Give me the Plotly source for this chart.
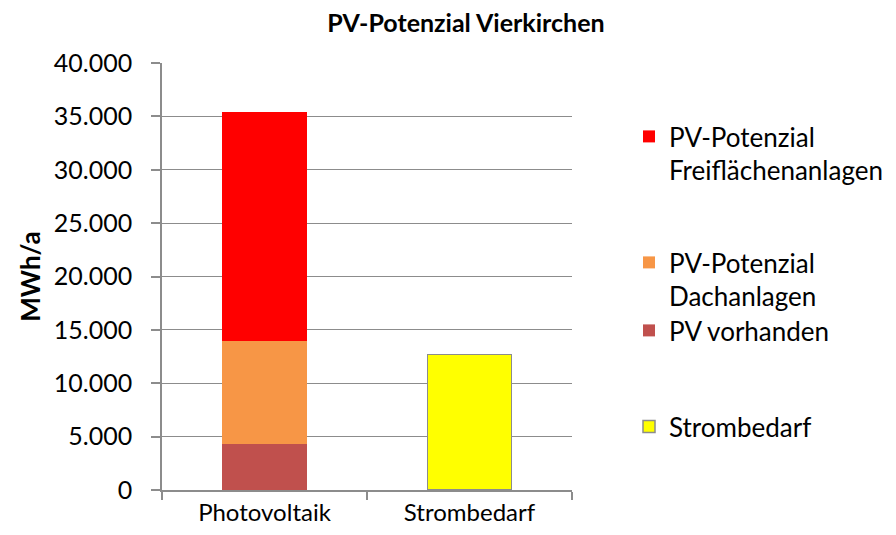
import plotly.graph_objects as go

categories = ["Photovoltaik", "Strombedarf"]
pv_vorhanden = [4350, None]
pv_dach = [9650, None]
pv_frei = [21450, None]
strombedarf = [None, 12700]

names = ["PV vorhanden", "PV-Potenzial<br>Dachanlagen", "PV-Potenzial<br>Freiflächenanlagen", "Strombedarf"]
colors = ["#C0504D", "#F79646", "#FF0000", "#FFFF00"]
FONT = "Lato"

# page is offset by the 8px body margin; layout below is in figure coordinates
L, T, R, B = 154, 55, 564, 482
PH = B - T

fig = go.Figure()
series = [pv_vorhanden, pv_dach, pv_frei, strombedarf]
legend_ids = ["legend3", "legend2", "legend", "legend4"]
for vals, name, col, lg in zip(series, names, colors, legend_ids):
    line = dict(color="#8C8C8C", width=1.5) if name == "Strombedarf" else dict(width=0)
    fig.add_trace(go.Bar(x=categories, y=vals, name=name, marker=dict(color=col, line=line),
                         width=0.41, legend=lg, showlegend=True))

leg_x = (621 - L) / (R - L)
leg_common = dict(font=dict(family=FONT, size=26, color="#000000"), bgcolor="rgba(0,0,0,0)",
                  xanchor="left", yanchor="top", valign="top", x=leg_x, itemwidth=30, visible=True)
fig.update_layout(
    barmode="stack",
    showlegend=True,
    width=896, height=535,
    margin=dict(l=L, r=896 - R, t=T, b=535 - B),
    paper_bgcolor="white", plot_bgcolor="white",
    separators=",.",
    title=dict(text="<b>PV-Potenzial Vierkirchen</b>", x=458 / 896, xanchor="center", y=1 - 15 / 535,
               yanchor="middle", font=dict(family=FONT, size=25, color="#000000")),
    legend=dict(**leg_common, y=(B - 105) / PH),
    legend2=dict(**leg_common, y=(B - 231) / PH),
    legend3=dict(**leg_common, y=(B - 299) / PH),
    legend4=dict(**leg_common, y=(B - 395) / PH),
    xaxis=dict(showline=True, linecolor="#8C8C8C", linewidth=1.5, ticks="outside", tickson="boundaries",
               ticklen=8, tickcolor="#8C8C8C", tickwidth=1.5,
               tickfont=dict(family=FONT, size=24, color="#000000")),
    yaxis=dict(range=[0, 40000], dtick=5000, tickformat=",d", showline=True, linecolor="#8C8C8C", linewidth=1.5,
               ticks="outside", ticklen=9, tickcolor="#8C8C8C", tickwidth=1.5, ticklabelstandoff=14,
               showgrid=True, gridcolor="#8C8C8C", gridwidth=1.3, zeroline=False,
               tickfont=dict(family=FONT, size=25, color="#000000"),
               title=dict(text="<b>MWh/a</b>", font=dict(family=FONT, size=26, color="#000000"), standoff=6)),
)
fig.write_html("out.html")
